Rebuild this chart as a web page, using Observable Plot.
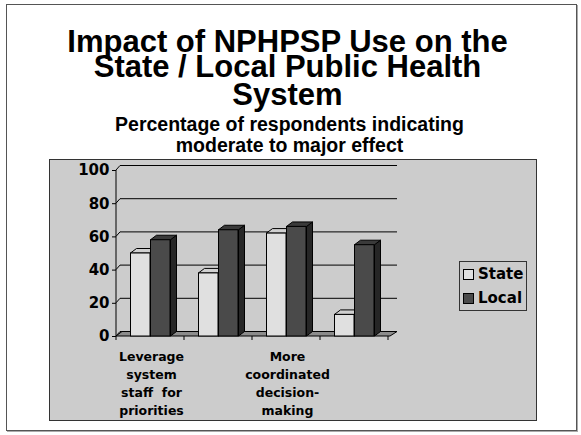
<!DOCTYPE html>
<html>
<head>
<meta charset="utf-8">
<script src="https://cdn.jsdelivr.net/npm/d3@7"></script>
<script src="https://cdn.jsdelivr.net/npm/@observablehq/plot@0.6"></script>
<style>
  html, body { margin: 0; padding: 0; background: #fff; }
  #page { position: relative; width: 581px; height: 435px; overflow: hidden; background: #fff; }
  #frame { position: absolute; left: 6px; top: 4px; width: 571px; height: 427px; box-sizing: border-box;
           border: 1px solid #555; box-shadow: 1px 1px 0 #aaa; }
  .title { position: absolute; left: -3px; width: 581px; text-align: center; white-space: nowrap;
           font-family: "Liberation Sans", Arial, sans-serif; font-weight: bold; font-size: 31px; line-height: 24px; height: 24px; color: #000; }
  .subtitle { position: absolute; left: -1px; width: 581px; text-align: center; white-space: nowrap;
           font-family: "Liberation Sans", Arial, sans-serif; font-weight: bold; font-size: 19.5px; line-height: 19.5px; color: #000; }
  #panel { position: absolute; left: 49px; top: 159px; width: 488px; height: 262px; box-sizing: border-box;
           background: #cccccc; border: 1px solid #333; }
  #chart { position: absolute; left: 49px; top: 159px; }
  #chart svg { overflow: visible; }
  #legend { position: absolute; left: 459px; top: 261px; width: 68px; height: 50px; box-sizing: border-box; border: 1px solid #333; }
  .sw { position: absolute; width: 11px; height: 11px; box-sizing: border-box; border: 1px solid #000; }
  .lt { position: absolute; font-family: "DejaVu Sans", sans-serif; font-weight: bold; font-size: 15px; line-height: 15px; color: #000; white-space: nowrap; }
</style>
</head>
<body>
<div id="page">
  <div id="frame"></div>
  <div class="title" id="t1"></div>
  <div class="title" id="t2"></div>
  <div class="title" id="t3"></div>
  <div class="subtitle" id="s1"></div>
  <div class="subtitle" id="s2"></div>
  <div id="panel"></div>
  <div id="chart"></div>
  <div id="legendWrap"></div>
</div>
<script>
// ---- data ----
const titleLines = ["Impact of NPHPSP Use on the", "State / Local Public Health", "System"];
const subtitleLines = ["Percentage of respondents indicating", "moderate to major effect"];
const categories = ["Leverage system staff for priorities", "Category 2", "More coordinated decision-making", "Category 4"];
const categoryLabels = ["Leverage\nsystem\nstaff\u00a0\u00a0for\npriorities", "", "More\ncoordinated\ndecision-\nmaking", ""];
const series = ["State", "Local"];
const stateValues = [50, 38, 62, 13];
const localValues = [58, 64, 66, 55];
const yTicks = [0, 20, 40, 60, 80, 100];
const frontColors = ["#e0e0e0", "#4a4a4a"];
const topColors = ["#d0d0d0", "#3a3a3a"];
const sideColors = ["#b4b4b4", "#262626"];

// ---- text ----
const titleTops = [29.7, 54.9, 83.2];
titleLines.forEach((t, i) => { const el = document.getElementById("t" + (i + 1)); el.textContent = t; el.style.top = titleTops[i] + "px"; });
const subTops = [114.5, 135.5];
subtitleLines.forEach((t, i) => { const el = document.getElementById("s" + (i + 1)); el.textContent = t; el.style.top = subTops[i] + "px"; });

// ---- table ----
const rows = categories.flatMap((c, i) => [
  {category: c, series: series[0], value: stateValues[i]},
  {category: c, series: series[1], value: localValues[i]}
]);

// geometry of bars inside a category band (front face offsets, px)
const barSpan = {State: [13.5, 33.5], Local: [33.5, 53.5]};
const DX = 6, DY = -4.5;

function bandWidth(x, dims) {
  return typeof x.bandwidth === "function" ? x.bandwidth()
    : (dims.width - dims.marginLeft - dims.marginRight) / categories.length;
}

// back wall gridlines, left-wall diagonals, floor and category ticks
function wallAndFloor(index, scales, values, dims) {
  const {x, y} = scales;
  const g = d3.create("svg:g");
  const xl = dims.marginLeft, xr = dims.width - dims.marginRight, y0 = y(0);
  for (const v of yTicks) {
    const yy = y(v);
    g.append("path").attr("d", `M${xl},${yy}L${xl + 4},${yy + DY}L${xr + DX + 1},${yy + DY}`)
      .attr("fill", "none").attr("stroke", "#000").attr("stroke-width", 1);
  }
  g.append("path").attr("d", `M${xl},${y0}L${xr},${y0}L${xr + DX + 1},${y0 + DY}L${xl + DX},${y0 + DY}Z`)
    .attr("fill", "#8c8c8c").attr("stroke", "#000").attr("stroke-width", 1).attr("stroke-linejoin", "round");
  g.append("line").attr("x1", xl).attr("x2", xl).attr("y1", y(100)).attr("y2", y0).attr("stroke", "#000");
  const bw = bandWidth(x, dims);
  for (let i = 0; i <= categories.length; i++) {
    const xx = xl + i * bw;
    g.append("line").attr("x1", xx).attr("x2", xx).attr("y1", y0).attr("y2", y0 + 4).attr("stroke", "#000");
  }
  return g.node();
}

// top and side faces of the 3D columns
function depthFaces(index, scales, values, dims) {
  const {x, y} = scales;
  const g = d3.create("svg:g");
  const y0 = y(0);
  for (const r of rows) {
    const s = series.indexOf(r.series);
    const b = x(r.category);
    const x0 = b + barSpan[r.series][0], x1 = b + barSpan[r.series][1];
    const yv = y(r.value);
    g.append("path").attr("d", `M${x1},${yv}L${x1 + DX},${yv + DY}L${x1 + DX},${y0 + DY}L${x1},${y0}Z`)
      .attr("fill", sideColors[s]).attr("stroke", "#000").attr("stroke-linejoin", "round");
    g.append("path").attr("d", `M${x0},${yv}L${x0 + DX},${yv + DY}L${x1 + DX},${yv + DY}L${x1},${yv}Z`)
      .attr("fill", topColors[s]).attr("stroke", "#000").attr("stroke-linejoin", "round");
  }
  return g.node();
}

const bw0 = (488 - 67 - 147) / categories.length;

const chart = Plot.plot({
  width: 488,
  height: 262,
  marginLeft: 67,
  marginRight: 147,
  marginTop: 11,
  marginBottom: 85,
  style: {background: "transparent", fontFamily: "DejaVu Sans, sans-serif", fontWeight: "bold", color: "#000", overflow: "visible"},
  x: {domain: categories, padding: 0, axis: null},
  y: {domain: [0, 100], axis: null},
  marks: [
    wallAndFloor,
    depthFaces,
    Plot.barY(rows.filter(d => d.series === "State"), {
      x: "category", y: "value", fill: frontColors[0], stroke: "#000", strokeWidth: 1,
      insetLeft: barSpan.State[0], insetRight: bw0 - barSpan.State[1]
    }),
    Plot.barY(rows.filter(d => d.series === "Local"), {
      x: "category", y: "value", fill: frontColors[1], stroke: "#000", strokeWidth: 1,
      insetLeft: barSpan.Local[0], insetRight: bw0 - barSpan.Local[1]
    }),
    Plot.axisY(yTicks, {tickSize: 4, tickPadding: 3, fontSize: 15, fontWeight: "bold", stroke: "#000", fill: "#000", label: null}),
    Plot.text(categories, {
      x: d => d, text: (d, i) => categoryLabels[i], frameAnchor: "bottom", lineAnchor: "top",
      dy: 12.4, lineHeight: 1.42, fontSize: 12.5, fontWeight: "bold", fill: "#000"
    })
  ]
});
document.getElementById("chart").appendChild(chart);

// ---- legend ----
const legend = document.getElementById("legendWrap");
const box = document.createElement("div"); box.id = "legend"; legend.appendChild(box);
const swTops = [269, 293], txtTops = [266.6, 291.3];
series.forEach((s, i) => {
  const sw = document.createElement("div"); sw.className = "sw";
  sw.style.left = "463px"; sw.style.top = swTops[i] + "px"; sw.style.background = frontColors[i];
  legend.appendChild(sw);
  const t = document.createElement("div"); t.className = "lt"; t.textContent = s;
  t.style.left = "478px"; t.style.top = txtTops[i] + "px";
  legend.appendChild(t);
});
</script>
</body>
</html>
